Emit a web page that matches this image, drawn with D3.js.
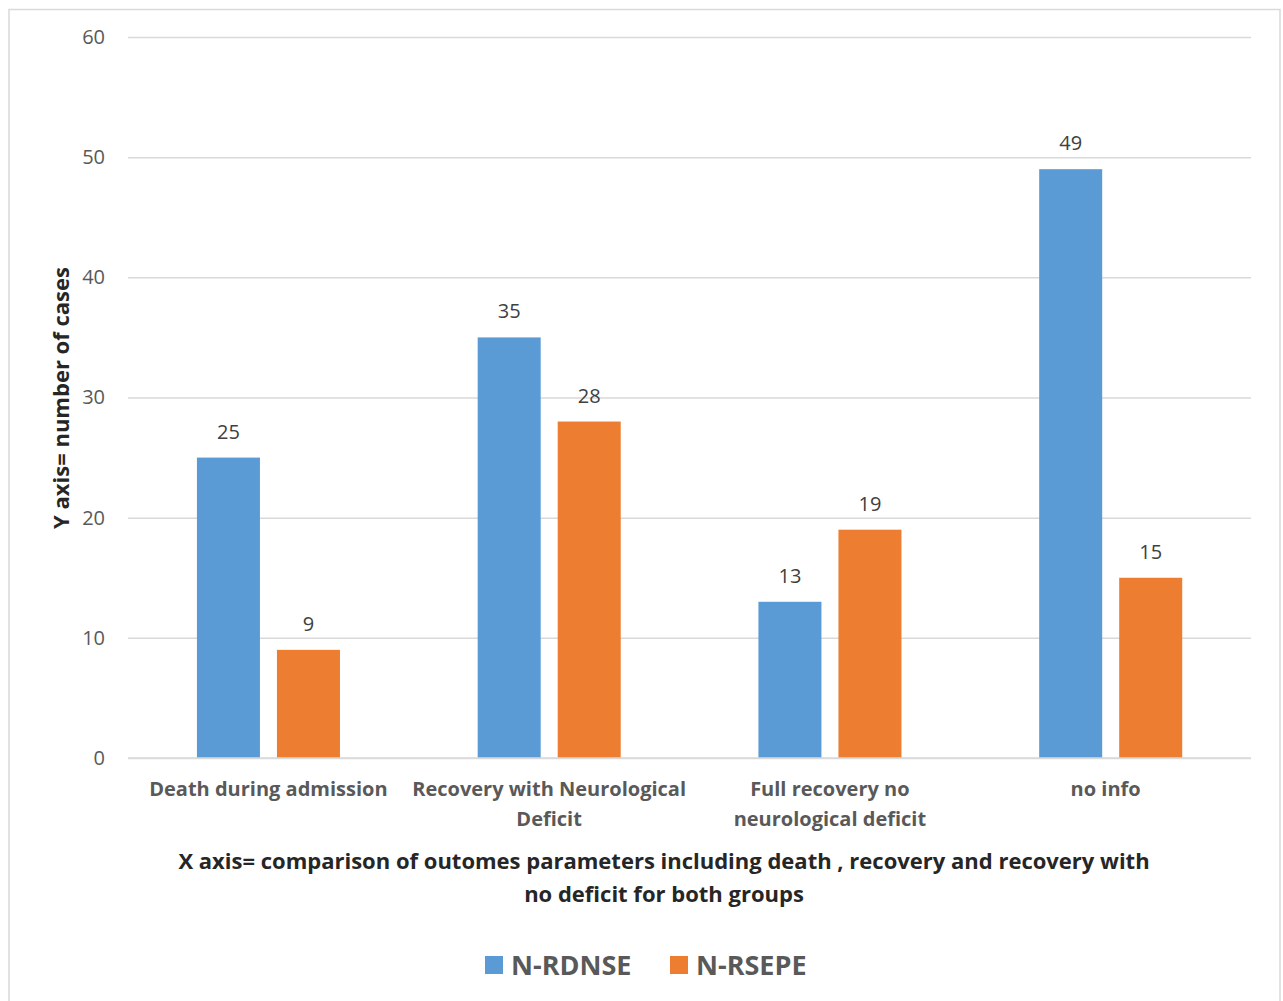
<!DOCTYPE html>
<html>
<head>
<meta charset="utf-8">
<script src="https://cdn.jsdelivr.net/npm/d3@7"></script>
<style>
  html, body { margin: 0; padding: 0; background: #fff; }
  svg { display: block; font-family: "Open Sans", "Noto Sans", sans-serif; }
</style>
</head>
<body>
<svg id="chart" width="1283" height="1001"></svg>
<script>
// Outcome categories (each may wrap to two lines)
const categories = [
  ["Death during admission"],
  ["Recovery with Neurological", "Deficit"],
  ["Full recovery no", "neurological deficit"],
  ["no info"]
];
const seriesNames = ["N-RDNSE", "N-RSEPE"];
const nRdnse = [25, 35, 13, 49];
const nRsepe = [9, 28, 19, 15];
const yTicks = [0, 10, 20, 30, 40, 50, 60];
const colors = ["#5B9BD5", "#ED7D31"];

const svg = d3.select("#chart");
const margin = { left: 128, right: 1251, top: 37, bottom: 758 };

// Chart frame
svg.append("rect")
  .attr("x", 9).attr("y", 9.5)
  .attr("width", 1271).attr("height", 1000)
  .attr("fill", "#fff").attr("stroke", "#d9d9d9").attr("stroke-width", 1.5);

const catKeys = categories.map(c => c.join(" "));
const x0 = d3.scaleBand().domain(catKeys).range([margin.left, margin.right]).padding(0);
const bw = x0.bandwidth();
const x1 = d3.scaleBand().domain(seriesNames)
  .range([bw * 0.2455, bw * 0.755]).paddingInner(0.2125).paddingOuter(0);
const y = d3.scaleLinear().domain([0, 60]).range([margin.bottom, margin.top]);

// Gridlines + y tick labels
const yAxis = d3.axisLeft(y).tickValues(yTicks)
  .tickSize(-(margin.right - margin.left)).tickPadding(23);
const gy = svg.append("g").attr("transform", `translate(${margin.left},0)`).call(yAxis);
gy.select(".domain").remove();
gy.selectAll(".tick line").attr("stroke", "#d9d9d9").attr("stroke-width", 1.5);
gy.selectAll(".tick text")
  .attr("fill", "#595959").style("font-size", "20px")
  .style("font-family", "'Open Sans', sans-serif");

// Bars
const data = catKeys.map((k, i) => ({ key: k, values: [nRdnse[i], nRsepe[i]] }));
const groups = svg.append("g").selectAll("g").data(data).join("g")
  .attr("transform", d => `translate(${x0(d.key)},0)`);

groups.selectAll("rect")
  .data(d => d.values.map((v, j) => ({ s: seriesNames[j], v, j })))
  .join("rect")
  .attr("x", d => x1(d.s))
  .attr("width", x1.bandwidth())
  .attr("y", d => y(d.v))
  .attr("height", d => y(0) - y(d.v))
  .attr("fill", d => colors[d.j]);

// Value labels
groups.selectAll("text.val")
  .data(d => d.values.map((v, j) => ({ s: seriesNames[j], v })))
  .join("text").attr("class", "val")
  .attr("x", d => x1(d.s) + x1.bandwidth() / 2)
  .attr("y", d => y(d.v) - 19)
  .attr("text-anchor", "middle")
  .attr("fill", "#404040").style("font-size", "20px")
  .text(d => d.v);

// Baseline redrawn over bars
svg.append("line")
  .attr("x1", margin.left).attr("x2", margin.right)
  .attr("y1", y(0)).attr("y2", y(0))
  .attr("stroke", "#d9d9d9").attr("stroke-width", 1.5);

// Category labels
categories.forEach((lines, i) => {
  const cx = x0(catKeys[i]) + bw / 2 - (i === 3 ? 5 : 0);
  const t = svg.append("text")
    .attr("text-anchor", "middle").attr("fill", "#595959")
    .style("font-size", "20px").style("font-weight", "bold");
  lines.forEach((ln, k) => {
    t.append("tspan").attr("x", cx).attr("y", 796 + k * 30).text(ln);
  });
});

// Axis titles
svg.append("text")
  .attr("transform", "translate(69,398) rotate(-90)")
  .attr("text-anchor", "middle").attr("fill", "#262626")
  .style("font-size", "22px").style("font-weight", "bold")
  .text("Y axis= number of cases");

const xt = svg.append("text").attr("text-anchor", "middle").attr("fill", "#262626")
  .style("font-size", "22px").style("font-weight", "bold");
xt.append("tspan").attr("x", 664).attr("y", 869)
  .text("X axis= comparison of outomes parameters including death , recovery and recovery with");
xt.append("tspan").attr("x", 664).attr("y", 902).text("no deficit for both groups");

// Legend
const legendX = [485, 670];
seriesNames.forEach((name, i) => {
  svg.append("rect").attr("x", legendX[i]).attr("y", 956)
    .attr("width", 18).attr("height", 18).attr("fill", colors[i]);
  svg.append("text").attr("x", legendX[i] + 26).attr("y", 975)
    .attr("fill", "#595959").style("font-size", "27px").style("font-weight", "bold")
    .text(name);
});
</script>
</body>
</html>
